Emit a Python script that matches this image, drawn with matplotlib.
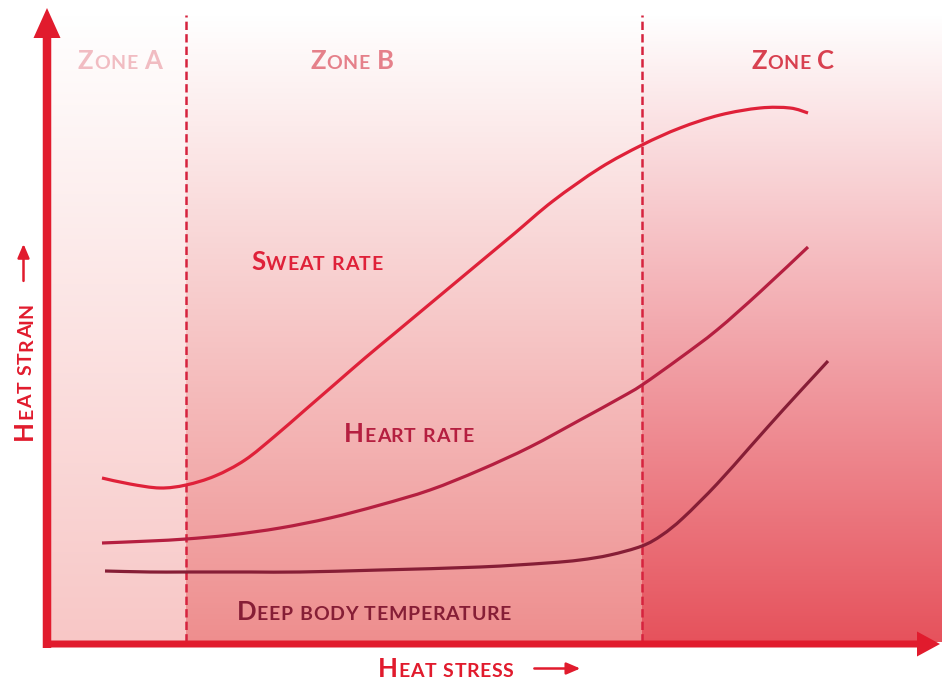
import re
import matplotlib
matplotlib.use("Agg")
import matplotlib.pyplot as plt
import numpy as np
from matplotlib.transforms import offset_copy
from matplotlib.patches import FancyArrow, PathPatch
from matplotlib.path import Path

plt.rcParams['lines.scale_dashes'] = False

# ---------------- data (heat stress on x, heat strain on y; arbitrary units) ----------------
zone_edges = [0, 139, 595, 895]
zone_names = ["Zone A", "Zone B", "Zone C"]
zone_label_x = [73, 305, 746]

sweat_x = [55, 83, 113, 139, 168, 198, 228, 258, 288, 318, 348, 378, 408, 438, 468, 506, 553, 595, 633, 673, 713, 743, 761]
sweat_y = [164, 158, 154, 157, 166, 182, 206, 232, 258, 284, 309, 334, 359, 384, 409, 441, 474, 497, 514, 527, 534, 534, 529]

heart_x = [55, 103, 139, 183, 233, 283, 333, 383, 433, 483, 533, 573, 595, 633, 670, 713, 761]
heart_y = [99, 101, 103, 107, 114, 124, 137, 152, 172, 195, 222, 244, 257, 284, 312, 350, 395]

deep_x = [58, 103, 139, 203, 253, 333, 433, 500, 533, 563, 595, 615, 636, 670, 703, 736, 770, 781]
deep_y = [71, 70, 70, 70, 70, 72, 75, 79, 82, 87, 96, 107, 124, 158, 195, 232, 269, 281]

series_names = ["Sweat rate", "Heart rate", "Deep body temperature"]

# ---------------- styling ----------------
AXIS_C = "#E11B2D"
DASH_C = "#D6233E"
SWEAT_C = "#DF2139"
HEART_C = "#B51F40"
DEEP_C = "#861E36"
ZONE_LABEL_C = ["#F1BCC2", "#E5808A", "#D8404F"]
zone_bottom = [(248, 199, 198), (238, 142, 142), (230, 82, 92)]

FONT = "Lato"
BIG, SMALL = 18.5, 14

fig = plt.figure(figsize=(9.42, 6.81), dpi=100)
ax = fig.add_axes([47 / 942, 39 / 681, 895 / 942, 634 / 681])
ax.set_xlim(0, 895)
ax.set_ylim(0, 634)
ax.axis("off")

# background gradient per zone (white at top -> zone colour at bottom)
grad_top = 627
ncols = zone_edges[-1]
img = np.ones((grad_top, ncols, 3))
t = np.linspace(0, 1, grad_top)[:, None]  # 0 bottom, 1 top
for i in range(3):
    c = np.array(zone_bottom[i]) / 255.0
    col = c[None, :] * (1 - t) + np.ones(3)[None, :] * t
    img[:, zone_edges[i]:zone_edges[i + 1], :] = col[:, None, :]
ax.imshow(img, extent=(0, ncols, 0, grad_top), origin="lower", aspect="auto", zorder=0,
          interpolation="bilinear")

# dashed zone boundaries
for xb in zone_edges[1:3]:
    ax.plot([xb, xb], [0, grad_top], color=DASH_C, lw=1.8, dashes=(6, 3), zorder=2)


def smooth_curve(xs, ys, color, lw=2.3):
    """Draw a smooth Bezier curve (Catmull-Rom style) through the read points."""
    P = np.column_stack([xs, ys]).astype(float)
    n = len(P)
    verts = [P[0]]
    codes = [Path.MOVETO]
    for i in range(n - 1):
        p0 = P[i - 1] if i > 0 else P[i]
        p1, p2 = P[i], P[i + 1]
        p3 = P[i + 2] if i + 2 < n else P[i + 1]
        c1 = p1 + (p2 - p0) / 6.0
        c2 = p2 - (p3 - p1) / 6.0
        verts += [c1, c2, p2]
        codes += [Path.CURVE4] * 3
    ax.add_patch(PathPatch(Path(verts, codes), fill=False, edgecolor=color, lw=lw,
                           capstyle="butt", zorder=3))


smooth_curve(sweat_x, sweat_y, SWEAT_C)
smooth_curve(heart_x, heart_y, HEART_C)
smooth_curve(deep_x, deep_y, DEEP_C)

# axes arrows
ax.add_patch(FancyArrow(0, -6, 0, 640, width=8.5, head_width=27, head_length=30,
                        length_includes_head=True, color=AXIS_C, clip_on=False, zorder=5, lw=0))
ax.add_patch(FancyArrow(-4, -2, 897, 0, width=7, head_width=25, head_length=23,
                        length_includes_head=True, color=AXIS_C, clip_on=False, zorder=5, lw=0))

renderer = fig.canvas.get_renderer()


def measure(s, size):
    tt = fig.text(0, 0, s, fontsize=size, family=FONT, fontweight="bold")
    w = tt.get_window_extent(renderer).width
    tt.remove()
    return w


def smallcaps(x, y, label, color, rotation=0, align="center", track=0.6,
              arrow_gap=None, arrow_len=None):
    pieces = []
    for wi, word in enumerate(label.split(" ")):
        if wi > 0:
            pieces.append(("SPACE", None))
        for grp in re.findall(r"[A-Z]+|[a-z]+", word):
            size = BIG if grp[0].isupper() else SMALL
            pieces.append((grp.upper(), size))
    items = []
    for s, size in pieces:
        if s == "SPACE":
            items.append((None, None, 0.32 * SMALL * 100 / 72))
        else:
            for ch in s:
                items.append((ch, size, measure(ch, size) + track))
    total = sum(it[2] for it in items)
    off = -total / 2 if align == "center" else 0
    ang = np.deg2rad(rotation)
    ca, sa = np.cos(ang), np.sin(ang)
    for ch, size, w in items:
        if ch is not None:
            tr = offset_copy(ax.transData, fig=fig, x=off * ca, y=off * sa, units="dots")
            ax.text(x, y, ch, transform=tr, fontsize=size, family=FONT, fontweight="bold",
                    color=color, rotation=rotation, rotation_mode="anchor", ha="left",
                    va="baseline", clip_on=False, zorder=6)
        off += w
    if arrow_gap is not None:
        lift = 8.5  # arrow sits at mid cap-height
        nx, ny = -sa * lift, ca * lift
        a0 = off + arrow_gap
        a1 = a0 + arrow_len
        tr0 = offset_copy(ax.transData, fig=fig, x=a0 * ca + nx, y=a0 * sa + ny, units="dots")
        tr1 = offset_copy(ax.transData, fig=fig, x=a1 * ca + nx, y=a1 * sa + ny, units="dots")
        ax.annotate("", xy=(x, y), xycoords=tr1, xytext=(x, y), textcoords=tr0,
                    arrowprops=dict(arrowstyle="-|>,head_length=0.75,head_width=0.32",
                                    mutation_scale=11, lw=1.8, color=color,
                                    shrinkA=0, shrinkB=0), annotation_clip=False)


for name, zx, zc in zip(zone_names, zone_label_x, ZONE_LABEL_C):
    smallcaps(zx, 573, name, zc)

smallcaps(270, 372, series_names[0], SWEAT_C)
smallcaps(362, 200, series_names[1], HEART_C)
smallcaps(327, 22, series_names[2], DEEP_C)

smallcaps(331, -35, "Heat stress", AXIS_C, align="left", arrow_gap=20, arrow_len=46)
smallcaps(-15, 202, "Heat strain", AXIS_C, rotation=90, align="left", arrow_gap=21, arrow_len=37)

fig.savefig("out.png", dpi=100, facecolor="white")
